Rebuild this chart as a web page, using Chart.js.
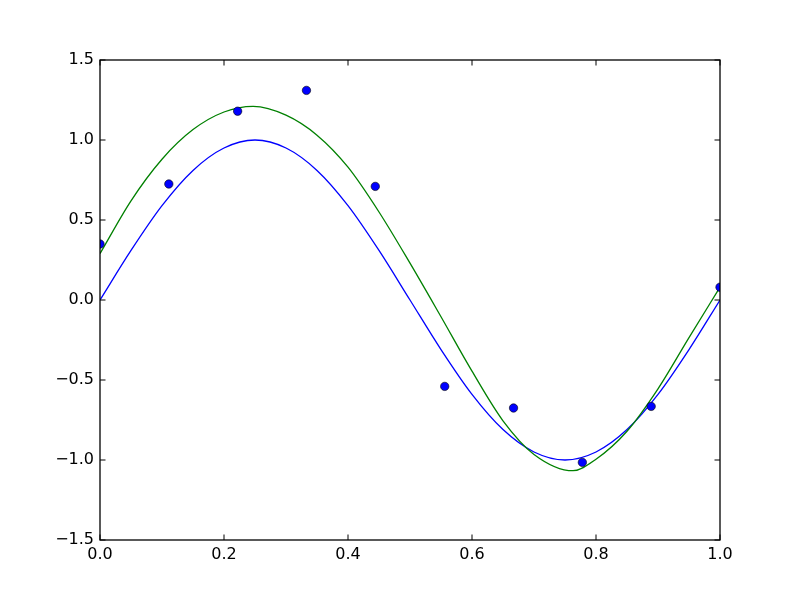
<!DOCTYPE html>
<html>
<head>
<meta charset="utf-8">
<script src="https://cdn.jsdelivr.net/npm/chart.js@4/dist/chart.umd.min.js"></script>
<style>
    html, body { margin: 0; padding: 0; background: #fff; }
    canvas { display: block; }
</style>
</head>
<body>
<canvas id="grafico" width="800" height="600"></canvas>
<script>
(function() {
    'use strict';

    // observed samples
    const pontosX = [0, 0.111, 0.222, 0.333, 0.444, 0.556, 0.667, 0.778, 0.889, 1.0];
    const pontosY = [0.35, 0.725, 1.18, 1.31, 0.71, -0.54, -0.675, -1.015, -0.665, 0.08];

    // curves
    const senoX = [0, 0.05, 0.1, 0.15, 0.2, 0.25, 0.3, 0.35, 0.4, 0.45, 0.5,
                   0.55, 0.6, 0.65, 0.7, 0.75, 0.8, 0.85, 0.9, 0.95, 1.0];
    const senoY = [0, 0.31, 0.59, 0.81, 0.95, 1.0, 0.95, 0.81, 0.59, 0.31, 0,
                   -0.31, -0.59, -0.81, -0.95, -1.0, -0.95, -0.81, -0.59, -0.31, 0];
    const ajusteX = [0, 0.05, 0.1, 0.15, 0.2, 0.247, 0.3, 0.35, 0.4, 0.45, 0.5,
                     0.55, 0.6, 0.65, 0.7, 0.763, 0.8, 0.85, 0.9, 0.95, 1.0];
    const ajusteY = [0.29, 0.62, 0.88, 1.065, 1.175, 1.21, 1.155, 1.03, 0.83, 0.55, 0.23,
                     -0.105, -0.445, -0.755, -0.965, -1.067, -0.995, -0.82, -0.555, -0.235, 0.08];

    const xTicks = [0, 0.2, 0.4, 0.6, 0.8, 1.0];
    const xTickLabels = ['0.0', '0.2', '0.4', '0.6', '0.8', '1.0'];
    const yTicks = [-1.5, -1.0, -0.5, 0, 0.5, 1.0, 1.5];
    const yTickLabels = ['\u22121.5', '\u22121.0', '\u22120.5', '0.0', '0.5', '1.0', '1.5'];

    function pares(xs, ys) {
        return xs.map((x, i) => ({ x: x, y: ys[i] }));
    }

    function fixarTicks(valores) {
        return function(scale) {
            scale.ticks = valores.map(v => ({ value: v }));
        };
    }

    const moldura = {
        id: 'moldura',
        afterDatasetsDraw(chart) {
            const ctx = chart.ctx;
            const a = chart.chartArea;
            const sx = chart.scales.x;
            const sy = chart.scales.y;
            const t = 5.5;
            ctx.save();
            ctx.strokeStyle = '#000';
            ctx.lineWidth = 1;
            ctx.beginPath();
            xTicks.forEach(v => {
                const px = sx.getPixelForValue(v);
                ctx.moveTo(px, a.bottom); ctx.lineTo(px, a.bottom - t);
                ctx.moveTo(px, a.top); ctx.lineTo(px, a.top + t);
            });
            yTicks.forEach(v => {
                const py = sy.getPixelForValue(v);
                ctx.moveTo(a.left, py); ctx.lineTo(a.left + t, py);
                ctx.moveTo(a.right, py); ctx.lineTo(a.right - t, py);
            });
            ctx.stroke();
            ctx.lineWidth = 1.3;
            ctx.strokeRect(a.left, a.top, a.right - a.left, a.bottom - a.top);
            ctx.restore();
        }
    };

    const fonte = { family: 'DejaVu Sans', size: 16 };

    new Chart(document.getElementById('grafico').getContext('2d'), {
        type: 'line',
        data: {
            datasets: [{
                data: pares(pontosX, pontosY),
                showLine: false,
                pointRadius: 4.2,
                pointBackgroundColor: '#0000ff',
                pointBorderColor: '#000',
                pointBorderWidth: 0.6,
                clip: 0
            }, {
                data: pares(ajusteX, ajusteY),
                borderColor: '#008000',
                borderWidth: 1.3,
                pointRadius: 0,
                cubicInterpolationMode: 'monotone',
                clip: 0
            }, {
                data: pares(senoX, senoY),
                borderColor: '#0000ff',
                borderWidth: 1.3,
                pointRadius: 0,
                cubicInterpolationMode: 'monotone',
                clip: 0
            }]
        },
        options: {
            responsive: false,
            animation: false,
            layout: { padding: { top: 60, right: 80, left: 0, bottom: 0 } },
            plugins: {
                legend: { display: false },
                tooltip: { enabled: false }
            },
            scales: {
                x: {
                    type: 'linear',
                    min: 0,
                    max: 1,
                    afterBuildTicks: fixarTicks(xTicks),
                    afterFit: function(scale) { scale.height = 60; },
                    border: { display: false },
                    grid: { display: false, drawTicks: false },
                    ticks: {
                        padding: 5,
                        color: '#000',
                        font: fonte,
                        maxRotation: 0,
                        callback: function(value) {
                            const i = xTicks.indexOf(value);
                            return i >= 0 ? xTickLabels[i] : '';
                        }
                    }
                },
                y: {
                    type: 'linear',
                    min: -1.5,
                    max: 1.5,
                    afterBuildTicks: fixarTicks(yTicks),
                    afterFit: function(scale) { scale.width = 100; },
                    border: { display: false },
                    grid: { display: false, drawTicks: false },
                    ticks: {
                        padding: 6,
                        color: '#000',
                        font: fonte,
                        callback: function(value) {
                            const i = yTicks.indexOf(value);
                            return i >= 0 ? yTickLabels[i] : '';
                        }
                    }
                }
            }
        },
        plugins: [moldura]
    });
})();
</script>
</body>
</html>
